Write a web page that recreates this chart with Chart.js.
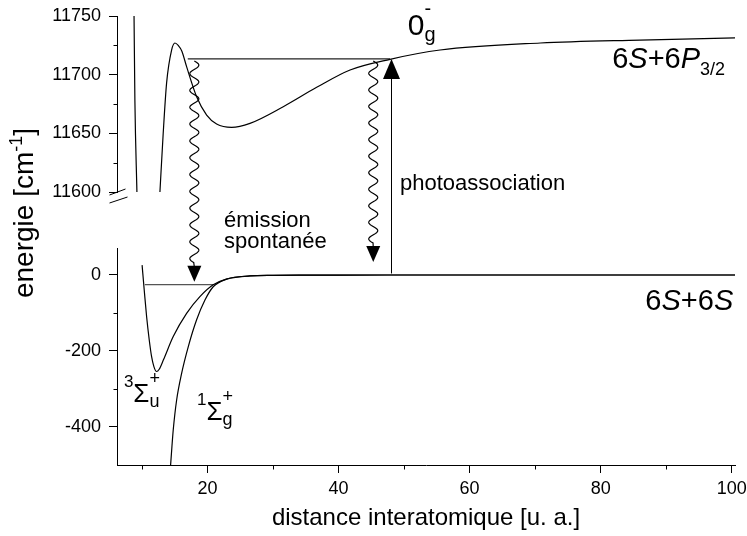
<!DOCTYPE html>
<html>
<head>
<meta charset="utf-8">
<script src="https://cdn.jsdelivr.net/npm/chart.js@4.4.1/dist/chart.umd.min.js"></script>
<style>
    html, body { margin: 0; padding: 0; background: #fff; }
</style>
</head>
<body>
<canvas id="chart1" width="747" height="536"></canvas>
<script>
// Cs2 potential curves: r in bohr (u. a.), energies in cm-1
const rTriplet = [10.03, 10.35, 10.72, 11.12, 11.48, 11.83, 12.24, 12.64, 13.27, 14.78, 16.82, 18.85, 20.88, 22.9, 26.5, 30, 35, 40, 50, 70, 100.5];
const eTriplet = [26, -39, -110, -171, -215, -241, -254, -248, -224, -162, -101, -57, -26, -11, -2.6, -1.1, -0.5, -0.2, 0, 0, 0];

const rSinglet = [14.38, 14.58, 14.78, 15.3, 16.06, 17.07, 18.35, 19.62, 20.88, 22.9, 26.5, 30, 35, 40, 50, 70, 100.5];
const eSinglet = [-500, -452, -408, -329, -259, -189, -118, -66, -31, -11, -2.6, -1.1, -0.5, -0.2, 0, 0, 0];

// 0g- : inner wall and outer well (the deep inner part is below the axis break)
const r0gInner = [8.80, 8.93, 9.24];
const e0gInner = [11750, 11678, 11600];
const r0g = [12.75, 13.25, 13.77, 14.53, 15.04, 15.54, 16.1, 16.82, 18.35, 19.88, 21.4, 23.69, 26.49, 31.57, 36.67, 41.76, 47.86, 55.5, 70.8, 86.0, 100.5];
const e0g = [11600, 11650, 11693, 11721, 11727, 11725, 11720, 11706.8, 11681.2, 11665.6, 11658, 11655.1, 11658.5, 11672.7, 11689.2, 11704, 11713.1, 11721, 11727, 11729.5, 11731.3];

// vibrational levels
const rLevelUpper = [17.0, 47.86];
const eLevelUpper = 11713.4;
const rLevelLower = [10.45, 20.85];
const eLevelLower = -25.5;

// transitions
const paR = 48.0, paFrom = 4, paTo = 11713.4;
const emR = [18.0, 45.3];
const emFrom = 11713.4;
const emTo = [-18, 34];

// ticks
const xMajor = [20, 40, 60, 80, 100];
const xMinor = [10, 30, 50, 70, 90];
const yHighMajor = [11600, 11650, 11700, 11750];
const yHighMinor = [11625, 11675, 11725];
const yLowMajor = [-400, -200, 0];
const yLowMinor = [-300, -100];

const FONT = '"Liberation Sans", Arial, sans-serif';
Chart.defaults.font.family = FONT;
Chart.defaults.color = '#000';

const pts = (rs, es) => rs.map((r, i) => ({x: r, y: Array.isArray(es) ? es[i] : es}));

function curve(data, yAxisID, color, width) {
    return {
        data: data,
        yAxisID: yAxisID,
        borderColor: color || '#000',
        borderWidth: width || 1.2,
        pointRadius: 0,
        fill: false,
        cubicInterpolationMode: 'monotone'
    };
}

// text with sub/superscripts; parts with back:true are stacked over the previous part
function drawRich(ctx, parts, x, y, align) {
    let cursor = 0, lastStart = 0;
    const ops = [];
    for (const p of parts) {
        ctx.font = (p.italic ? 'italic ' : '') + p.size + 'px ' + FONT;
        const w = ctx.measureText(p.t).width;
        let at;
        if (p.back) {
            at = lastStart;
            cursor = Math.max(cursor, at + w);
        } else {
            at = cursor;
            lastStart = at;
            cursor += w;
        }
        ops.push({p, at});
    }
    const shift = align === 'right' ? -cursor : align === 'center' ? -cursor / 2 : 0;
    ctx.textAlign = 'left';
    ctx.textBaseline = 'alphabetic';
    for (const {p, at} of ops) {
        ctx.font = (p.italic ? 'italic ' : '') + p.size + 'px ' + FONT;
        ctx.fillText(p.t, x + shift + at, y + (p.dy || 0));
    }
}

const labels = [
    {r: 50.56, e: 11733.8, axis: 'yHigh', align: 'left', parts: [
        {t: '0', size: 30}, {t: 'g', size: 20, dy: 6}, {t: '-', size: 20, dy: -20, back: true}]},
    {r: 81.76, e: 11705.7, axis: 'yHigh', align: 'left', parts: [
        {t: '6', size: 29}, {t: 'S', size: 29, italic: true}, {t: '+6', size: 29},
        {t: 'P', size: 29, italic: true}, {t: '3/2', size: 18, dy: 7}]},
    {r: 100.23, e: -92, axis: 'yLow', align: 'right', parts: [
        {t: '6', size: 29}, {t: 'S', size: 29, italic: true}, {t: '+6', size: 29},
        {t: 'S', size: 29, italic: true}]},
    {r: 49.39, e: 11601.7, axis: 'yHigh', align: 'left', parts: [{t: 'photoassociation', size: 22}]},
    {r: 22.52, e: 11570.2, axis: 'yHigh', align: 'left', parts: [{t: 'émission', size: 22}]},
    {r: 22.52, e: 11552.3, axis: 'yHigh', align: 'left', parts: [{t: 'spontanée', size: 22}]},
    {r: 7.25, e: -334, axis: 'yLow', align: 'left', parts: [
        {t: '3', size: 17, dy: -15}, {t: 'Σ', size: 26}, {t: 'u', size: 18, dy: 5},
        {t: '+', size: 18, dy: -18, back: true}]},
    {r: 18.4, e: -381.6, axis: 'yLow', align: 'left', parts: [
        {t: '1', size: 17, dy: -15}, {t: 'Σ', size: 26}, {t: 'g', size: 18, dy: 5},
        {t: '+', size: 18, dy: -18, back: true}]}
];

function arrowHead(ctx, x, tipY, dir, len, half) {
    ctx.beginPath();
    ctx.moveTo(x, tipY);
    ctx.lineTo(x - half, tipY - dir * len);
    ctx.lineTo(x + half, tipY - dir * len);
    ctx.closePath();
    ctx.fill();
}

const annotate = {
    id: 'annotate',
    afterDraw(chart) {
        const {ctx} = chart;
        const {x, yLow, yHigh} = chart.scales;
        const left = Math.round(x.left) + 0.5;
        const axisY = Math.round(x.top) + 0.5;
        ctx.save();
        ctx.strokeStyle = '#000';
        ctx.fillStyle = '#000';
        ctx.lineWidth = 1;

        // minor ticks
        ctx.beginPath();
        xMinor.forEach(v => {
            const px = Math.round(x.getPixelForValue(v)) + 0.5;
            ctx.moveTo(px, axisY);
            ctx.lineTo(px, axisY + 4);
        });
        yHighMinor.forEach(v => {
            const py = Math.round(yHigh.getPixelForValue(v)) + 0.5;
            ctx.moveTo(left - 4, py);
            ctx.lineTo(left, py);
        });
        yLowMinor.forEach(v => {
            const py = Math.round(yLow.getPixelForValue(v)) + 0.5;
            ctx.moveTo(left - 4, py);
            ctx.lineTo(left, py);
        });
        ctx.stroke();

        // axis break marks
        const yb = yHigh.bottom;
        ctx.beginPath();
        ctx.moveTo(left - 8, yb + 3);
        ctx.lineTo(left + 8, yb - 3);
        ctx.moveTo(left - 8, yb + 11);
        ctx.lineTo(left + 10, yb + 5);
        ctx.stroke();

        // photoassociation: straight arrow upward
        const pax = Math.round(x.getPixelForValue(paR)) + 0.5;
        const pa0 = yLow.getPixelForValue(paFrom);
        const pa1 = yHigh.getPixelForValue(paTo);
        ctx.beginPath();
        ctx.moveTo(pax, pa0);
        ctx.lineTo(pax, pa1 + 18);
        ctx.stroke();
        arrowHead(ctx, pax, pa1, -1, 20, 8.5);

        // spontaneous emission: wavy arrows downward
        ctx.lineWidth = 1.2;
        emR.forEach((r, i) => {
            const cx = x.getPixelForValue(r);
            const y0 = yHigh.getPixelForValue(emFrom) + 2;
            const tip = yLow.getPixelForValue(emTo[i]);
            const headLen = 16;
            const yEnd = tip - headLen - 3;
            const n = Math.round((yEnd - y0) / 17);
            const period = (yEnd - y0) / n;
            ctx.beginPath();
            for (let yy = y0; yy <= yEnd; yy += 0.5) {
                const xx = cx + 4.5 * Math.sin(2 * Math.PI * (yy - y0) / period);
                if (yy === y0) ctx.moveTo(xx, yy); else ctx.lineTo(xx, yy);
            }
            ctx.lineTo(cx, tip - headLen + 1);
            ctx.stroke();
            arrowHead(ctx, cx, tip, 1, headLen, 7);
        });

        // text labels
        labels.forEach(l => {
            const sc = chart.scales[l.axis];
            drawRich(ctx, l.parts, x.getPixelForValue(l.r), sc.getPixelForValue(l.e), l.align);
        });

        // y axis title
        ctx.translate(33, 213);
        ctx.rotate(-Math.PI / 2);
        drawRich(ctx, [{t: 'energie [cm', size: 28}, {t: '-1', size: 18, dy: -11}, {t: ']', size: 28}], 0, 0, 'center');
        ctx.restore();
    }
};

const yFit = s => { s.width = 117; s.paddingTop = 0; s.paddingBottom = 0; };
const tickFont = {family: FONT, size: 18};
const plain = v => String(v);

new Chart(document.getElementById('chart1'), {
    type: 'line',
    data: {
        datasets: [
            curve(pts(rTriplet, eTriplet), 'yLow'),
            curve(pts(rSinglet, eSinglet), 'yLow'),
            curve(pts(rLevelLower, eLevelLower), 'yLow', '#555', 1.2),
            curve(pts(r0gInner, e0gInner), 'yHigh'),
            curve(pts(r0g, e0g), 'yHigh'),
            curve(pts(rLevelUpper, eLevelUpper), 'yHigh', '#222', 1.2)
        ]
    },
    options: {
        responsive: false,
        animation: false,
        layout: {padding: {top: 16, right: 12, bottom: 0, left: 0}},
        plugins: {legend: {display: false}, tooltip: {enabled: false}},
        scales: {
            x: {
                type: 'linear',
                min: 6.2,
                max: 100.5,
                afterBuildTicks: s => { s.ticks = xMajor.map(v => ({value: v})); },
                afterFit: s => { s.height = 71; s.paddingLeft = 0; s.paddingRight = 0; },
                grid: {drawOnChartArea: false, tickLength: 8, color: '#000'},
                border: {display: true, color: '#000', width: 1},
                ticks: {font: tickFont, color: '#000', padding: 5, maxRotation: 0, autoSkip: false, callback: plain},
                title: {display: true, text: 'distance interatomique [u. a.]', font: {family: FONT, size: 24}, color: '#000', padding: {top: 0, bottom: 3}}
            },
            yLow: {
                type: 'linear',
                position: 'left',
                stack: 'energy',
                stackWeight: 217,
                min: -500,
                max: 71,
                afterBuildTicks: s => { s.ticks = yLowMajor.map(v => ({value: v})); },
                afterFit: yFit,
                grid: {drawOnChartArea: false, tickLength: 8, color: '#000'},
                border: {display: true, color: '#000', width: 1},
                ticks: {font: tickFont, color: '#000', padding: 8, callback: plain}
            },
            yGap: {
                type: 'linear',
                position: 'left',
                stack: 'energy',
                stackWeight: 56,
                min: 0,
                max: 1,
                afterBuildTicks: s => { s.ticks = []; },
                afterFit: yFit,
                grid: {display: false},
                border: {display: false},
                ticks: {display: false}
            },
            yHigh: {
                type: 'linear',
                position: 'left',
                stack: 'energy',
                stackWeight: 176,
                min: 11600,
                max: 11750,
                afterBuildTicks: s => { s.ticks = yHighMajor.map(v => ({value: v})); },
                afterFit: yFit,
                grid: {drawOnChartArea: false, tickLength: 8, color: '#000'},
                border: {display: true, color: '#000', width: 1},
                ticks: {font: tickFont, color: '#000', padding: 8, callback: plain}
            }
        }
    },
    plugins: [annotate]
});
</script>
</body>
</html>
